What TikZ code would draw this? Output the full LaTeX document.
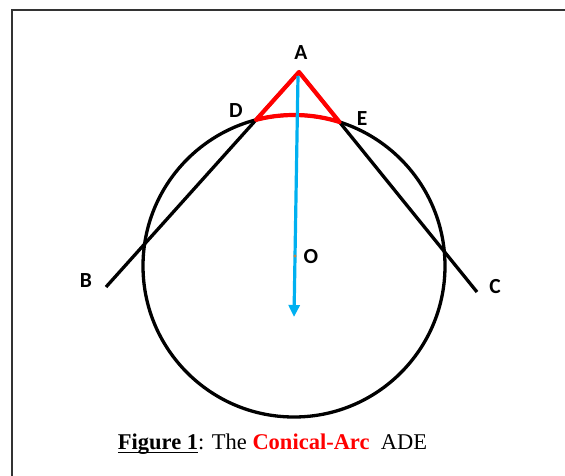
\documentclass[tikz,border=0pt]{standalone}
\usepackage{fontspec}
\setmainfont{Liberation Serif}
\newfontfamily\lblfont{Carlito}
\usetikzlibrary{intersections,arrows.meta}
\definecolor{arrowblue}{RGB}{0,176,240}
\definecolor{dotorange}{RGB}{200,130,60}
\newcommand{\thickul}[1]{\setbox0\hbox{#1}\rlap{\raisebox{-4.2pt}{\rule{\wd0}{1.7pt}}}\box0}
\tikzset{
  lbl/.style={font=\lblfont\bfseries\fontsize{21.5}{21.5}\selectfont, inner sep=0pt},
  blackline/.style={line width=3.3pt, black},
  redline/.style={line width=4.2pt, red, line cap=round, line join=round},
  frameline/.style={line width=1.8pt, black!80},
}
\begin{document}
\begin{tikzpicture}[x=1pt,y=-1pt]
\useasboundingbox (0,0) rectangle (565,475);
% frame (left and top edges only)
\coordinate (fbl) at (12,476);
\coordinate (ftl) at (12,10);
\coordinate (ftr) at (566,10);
\draw[frameline] (fbl) -- (ftl) -- (ftr);
% key points
\coordinate (O) at (294,266);
\coordinate (A) at (299,72);
\coordinate (Bend) at (106,287);
\coordinate (Cend) at (477,292);
\coordinate (Odot) at (295,256);
\coordinate (Aarrow) at (298,76);
\coordinate (arrowtip) at (294,317);
\coordinate (top) at (0,0);
\coordinate (low) at (0,200);
% circle and secant lines
\draw[blackline, name path=circ] (O) circle[radius=151pt];
\draw[blackline, name path=lAB] (A) -- (Bend);
\draw[blackline, name path=lAC] (A) -- (Cend);
\path[name intersections={of=circ and lAB, sort by=lAB, by={D,D2}}];
\path[name intersections={of=circ and lAC, sort by=lAC, by={E,E2}}];
% red conical arc
\begin{scope}
  \clip (D |- top) rectangle (E |- low);
  \draw[redline] (O) circle[radius=151pt];
\end{scope}
\draw[redline] (D) -- (A) -- (E);
% blue axis arrow
\draw[line width=3.2pt, arrowblue, -{Triangle[length=12pt,width=11pt]}] (Aarrow) -- (arrowtip);
\fill[dotorange] (Odot) circle[radius=1.7pt];
% labels
\node[lbl] (la) at (301,53) {A};
\node[lbl] (ld) at (236,111) {D};
\node[lbl] (le) at (362,119) {E};
\node[lbl] (lb) at (86,281) {B};
\node[lbl] (lc) at (495,287) {C};
\node[lbl] (lo) at (311,257) {O};
% caption
\node[anchor=base, inner sep=0pt, font=\fontsize{22.5}{24}\selectfont] (cap) at (272.5,449)
  {\thickul{\textbf{Figure 1}}: The \textcolor{red}{\textbf{Conical-Arc}}\ \ ADE};
\end{tikzpicture}
\end{document}
